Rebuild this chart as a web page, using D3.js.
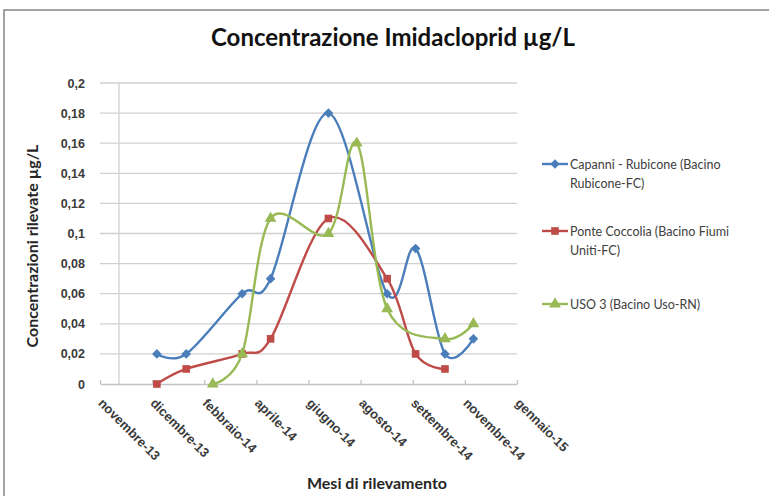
<!DOCTYPE html>
<html>
<head>
<meta charset="utf-8">
<script src="https://cdn.jsdelivr.net/npm/d3@7"></script>
<style>
  html, body { margin: 0; padding: 0; background: #fff; }
  svg { display: block; font-family: Lato, "Open Sans", sans-serif; }
</style>
</head>
<body>
<svg id="chart" width="769" height="496"></svg>
<script>
// ---- data ----
const chartTitle = "Concentrazione Imidacloprid µg/L";
const xTitle = "Mesi di rilevamento";
const yTitle = "Concentrazioni rilevate µg/L";

const xTickDates = ["2013-11-01","2013-12-26","2014-02-19","2014-04-15","2014-06-09","2014-08-03","2014-09-27","2014-11-21","2015-01-15"];
const xTickLabels = ["novembre-13","dicembre-13","febbraio-14","aprile-14","giugno-14","agosto-14","settembre-14","novembre-14","gennaio-15"];
const yAxisCrossDate = "2013-11-21";

const yTickValues = [0,0.02,0.04,0.06,0.08,0.1,0.12,0.14,0.16,0.18,0.2];
const yTickLabels = ["0","0,02","0,04","0,06","0,08","0,1","0,12","0,14","0,16","0,18","0,2"];

const seriesNames = ["Capanni - Rubicone (Bacino|Rubicone-FC)", "Ponte Coccolia (Bacino Fiumi|Uniti-FC)", "USO 3 (Bacino Uso-RN)"];

const capanniDates  = ["2013-12-31","2014-01-31","2014-03-31","2014-04-30","2014-06-30","2014-08-31","2014-09-30","2014-10-31","2014-11-30"];
const capanniValues = [0.02, 0.02, 0.06, 0.07, 0.18, 0.06, 0.09, 0.02, 0.03];

const coccoliaDates  = ["2013-12-31","2014-01-31","2014-03-31","2014-04-30","2014-06-30","2014-08-31","2014-09-30","2014-10-31"];
const coccoliaValues = [0, 0.01, 0.02, 0.03, 0.11, 0.07, 0.02, 0.01];

const usoDates  = ["2014-02-28","2014-03-31","2014-04-30","2014-06-30","2014-07-30","2014-08-31","2014-10-31","2014-11-30"];
const usoValues = [0, 0.02, 0.11, 0.10, 0.16, 0.05, 0.03, 0.04];

// ---- setup ----
const parse = d3.utcParse("%Y-%m-%d");
const svg = d3.select("#chart");
const colors = ["#4A7EBB", "#BE4B48", "#98B954"];
const markers = [d3.symbolSquare, d3.symbolSquare, d3.symbolTriangle];
const markerSizes = [46, 58, 60];
const markerRot = [45, 0, 0];

const series = [
  { name: seriesNames[0], dates: capanniDates, values: capanniValues },
  { name: seriesNames[1], dates: coccoliaDates, values: coccoliaValues },
  { name: seriesNames[2], dates: usoDates, values: usoValues }
];

// chart frame
svg.append("rect").attr("x", 4).attr("y", 10).attr("width", 820).attr("height", 520)
  .attr("fill", "#fff").attr("stroke", "#8d8d8d").attr("stroke-width", 1.6);

const plot = { left: 100, right: 517, top: 83, bottom: 384 };

const x = d3.scaleUtc()
  .domain([parse(xTickDates[0]), parse(xTickDates[xTickDates.length - 1])])
  .range([plot.left, plot.right]);
const y = d3.scaleLinear().domain([0, 0.2]).range([plot.bottom, plot.top]);

// gridlines
svg.append("g").selectAll("line").data(yTickValues.slice(1)).join("line")
  .attr("x1", plot.left).attr("x2", plot.right)
  .attr("y1", d => y(d)).attr("y2", d => y(d))
  .attr("stroke", "#d0d0d0").attr("stroke-width", 1.3);

// vertical axis line (crossing)
const cx = x(parse(yAxisCrossDate));
svg.append("line").attr("x1", cx).attr("x2", cx).attr("y1", plot.top).attr("y2", plot.bottom)
  .attr("stroke", "#d0d0d0").attr("stroke-width", 1.3);

// x axis
const xAxis = d3.axisBottom(x)
  .tickValues(xTickDates.map(parse))
  .tickSizeInner(-4).tickSizeOuter(0)
  .tickFormat((d, i) => xTickLabels[i]);
const gx = svg.append("g").attr("transform", `translate(0,${plot.bottom})`).call(xAxis);
gx.select(".domain").attr("stroke", "#c4c4c4").attr("stroke-width", 1.3);
gx.selectAll(".tick line").attr("stroke", "#c4c4c4").attr("stroke-width", 1.3);
gx.selectAll(".tick text")
  .attr("fill", "#3a3a3a").attr("font-size", 13).attr("font-weight", 700)
  .attr("text-anchor", "start").attr("dy", null).attr("y", 0)
  .attr("transform", "translate(-3,20) rotate(45)");

// y axis
const yAxis = d3.axisLeft(y).tickValues(yTickValues).tickSize(0)
  .tickFormat((d, i) => yTickLabels[i]);
const gy = svg.append("g").attr("transform", `translate(${plot.left},0)`).call(yAxis);
gy.select(".domain").remove();
gy.selectAll(".tick text").attr("x", -15).attr("fill", "#3a3a3a")
  .attr("font-size", 12.5).attr("font-weight", 700);

// lines
const line = d3.line().curve(d3.curveCatmullRom.alpha(0))
  .x(d => x(d.date)).y(d => y(d.value));
series.forEach((s, i) => {
  const pts = s.dates.map((dt, j) => ({ date: parse(dt), value: s.values[j] }));
  svg.append("path").datum(pts).attr("d", line)
    .attr("fill", "none").attr("stroke", colors[i]).attr("stroke-width", 2.4);
  svg.append("g").selectAll("path").data(pts).join("path")
    .attr("d", d3.symbol().type(markers[i]).size(markerSizes[i]))
    .attr("transform", d => `translate(${x(d.date)},${y(d.value)}) rotate(${markerRot[i]})`)
    .attr("fill", colors[i]);
});

// titles
svg.append("text").attr("x", 393).attr("y", 46).attr("text-anchor", "middle")
  .attr("font-size", 24).attr("font-weight", 700).attr("fill", "#111").text(chartTitle);

svg.append("text").attr("x", 377).attr("y", 489).attr("text-anchor", "middle")
  .attr("font-size", 16).attr("font-weight", 700).attr("fill", "#262626").text(xTitle);

svg.append("text").attr("transform", "translate(38,246) rotate(-90)").attr("text-anchor", "middle")
  .attr("font-size", 16).attr("font-weight", 700).attr("fill", "#262626").text(yTitle);

// legend
const legendY = [164, 231, 304];
series.forEach((s, i) => {
  const g = svg.append("g").attr("transform", `translate(542,${legendY[i]})`);
  g.append("line").attr("x1", 0).attr("x2", 26).attr("y1", 0).attr("y2", 0)
    .attr("stroke", colors[i]).attr("stroke-width", 2.4);
  g.append("path").attr("d", d3.symbol().type(markers[i]).size(markerSizes[i]))
    .attr("transform", `translate(13,0) rotate(${markerRot[i]})`).attr("fill", colors[i]);
  const lines = s.name.split("|");
  const txt = g.append("text").attr("x", 28).attr("y", 4.5)
    .attr("font-size", 12.5).attr("fill", "#404040");
  lines.forEach((l, k) => {
    txt.append("tspan").attr("x", 28).attr("dy", k === 0 ? 0 : 19).text(l);
  });
});
</script>
</body>
</html>
